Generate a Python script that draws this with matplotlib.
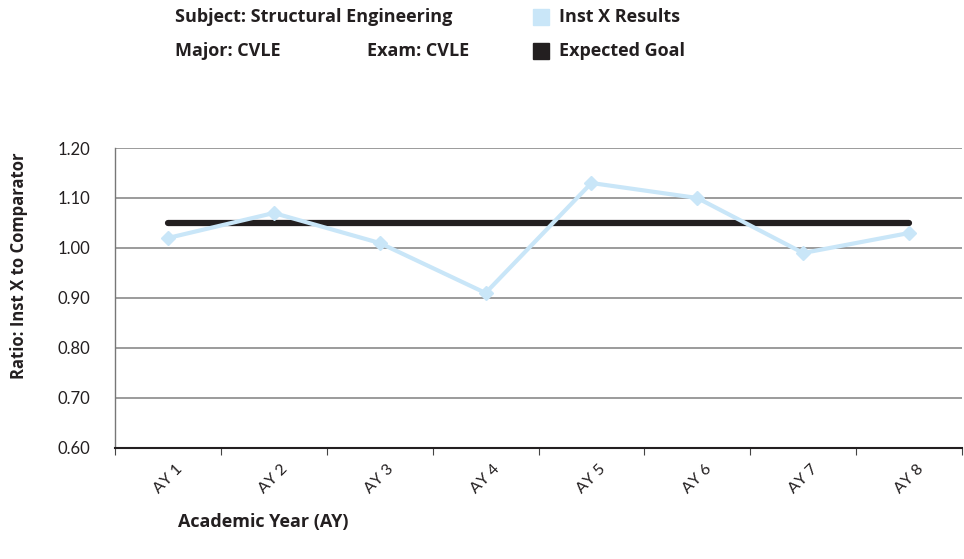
import matplotlib
matplotlib.use("Agg")
import matplotlib.pyplot as plt
from matplotlib.patches import Rectangle

categories = ["AY 1", "AY 2", "AY 3", "AY 4", "AY 5", "AY 6", "AY 7", "AY 8"]
inst_x_results = [1.02, 1.07, 1.01, 0.91, 1.13, 1.10, 0.99, 1.03]
expected_goal = [1.05, 1.05, 1.05, 1.05, 1.05, 1.05, 1.05, 1.05]
y_ticks = [0.60, 0.70, 0.80, 0.90, 1.00, 1.10, 1.20]

W, H = 964, 559
fig = plt.figure(figsize=(W / 100, H / 100), dpi=100)
ax = fig.add_axes([115 / W, 1 - 448 / H, (962 - 115) / W, 300 / H])

x = list(range(len(categories)))
ax.plot(x, expected_goal, color="#231F20", lw=4.5, solid_capstyle="round", zorder=3)
ax.plot(x, inst_x_results, color="#C9E6F8", lw=3, marker="D", markersize=7.5,
        markeredgecolor="#C9E6F8", zorder=4)

ax.set_xlim(-0.5, len(categories) - 0.5)
ax.set_ylim(0.60, 1.20)
ax.set_yticks(y_ticks)
ax.set_yticklabels([f"{v:.2f}" for v in y_ticks], fontfamily="Lato", fontsize=12,
                   color="#231F20")
ax.tick_params(axis="y", length=0, pad=18)
ax.yaxis.grid(True, color="#8a8a8a", lw=1.2)
ax.set_axisbelow(True)

ax.set_xticks([i - 0.5 for i in range(len(categories) + 1)])
ax.set_xticklabels([])
ax.tick_params(axis="x", which="major", length=5, color="#444444", direction="out")
ax.set_xticks(x, minor=True)
ax.set_xticklabels(categories, minor=True, rotation=45, ha="center",
                   fontfamily="Lato", fontsize=11.5, color="#231F20")
ax.tick_params(axis="x", which="minor", length=0, pad=10)

for s in ["top", "right"]:
    ax.spines[s].set_visible(False)
ax.spines["left"].set_color("#777777")
ax.spines["left"].set_linewidth(1.0)
ax.spines["bottom"].set_color("#231F20")
ax.spines["bottom"].set_linewidth(1.5)

hdr = dict(fontfamily="Open Sans", fontweight="bold", fontsize=13, color="#231F20",
           va="center", ha="left")
fig.text(175 / W, 1 - 17 / H, "Subject: Structural Engineering", **hdr)
fig.text(175 / W, 1 - 51 / H, "Major: CVLE", **hdr)
fig.text(367 / W, 1 - 51 / H, "Exam: CVLE", **hdr)
fig.text(559 / W, 1 - 17 / H, "Inst X Results", **hdr)
fig.text(559 / W, 1 - 51 / H, "Expected Goal", **hdr)
fig.patches.append(Rectangle((533 / W, 1 - 25 / H), 16 / W, 16 / H,
                             transform=fig.transFigure, color="#C9E6F8"))
fig.patches.append(Rectangle((533 / W, 1 - 59 / H), 16 / W, 16 / H,
                             transform=fig.transFigure, color="#231F20"))

fig.text(19 / W, 1 - 266 / H, "Ratio: Inst X to Comparator", rotation=90,
         fontfamily="Open Sans", fontweight="bold", fontsize=12, color="#231F20",
         ha="center", va="center")
fig.text(178 / W, 1 - 522 / H, "Academic Year (AY)", fontfamily="Open Sans",
         fontweight="bold", fontsize=13, color="#231F20", ha="left", va="center")

fig.savefig("out.png", dpi=100)
